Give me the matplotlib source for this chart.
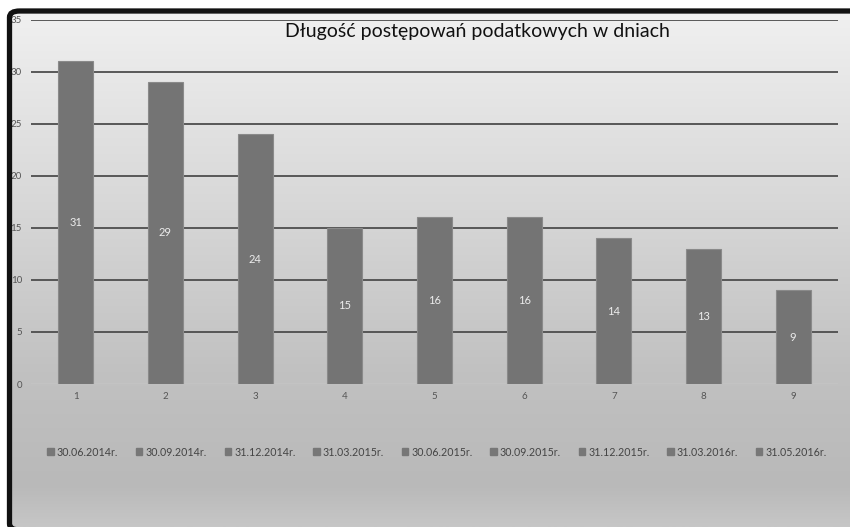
import numpy as np
import matplotlib
matplotlib.use('Agg')
import matplotlib.pyplot as plt
from matplotlib.patches import FancyBboxPatch
from matplotlib.colors import LinearSegmentedColormap

# chart data
categories = [1, 2, 3, 4, 5, 6, 7, 8, 9]
values = [31, 29, 24, 15, 16, 16, 14, 13, 9]
dates = ['30.06.2014r.', '30.09.2014r.', '31.12.2014r.', '31.03.2015r.',
         '30.06.2015r.', '30.09.2015r.', '31.12.2015r.', '31.03.2016r.',
         '31.05.2016r.']
yticks = [0, 5, 10, 15, 20, 25, 30, 35]
title = 'Długość postępowań podatkowych w dniach'

W, H = 850, 527
plt.rcParams['font.family'] = ['Lato', 'DejaVu Sans']

fig = plt.figure(figsize=(W / 100, H / 100), dpi=100, facecolor='white')

# gray gradient background of the chart area
bg = fig.add_axes([10 / W, 0, 1 - 10 / W, 1 - 11 / H], zorder=0)
grad = LinearSegmentedColormap.from_list(
    'bg', [(0, '#c6c6c6'), (0.08, '#b9b9b9'), (0.3, '#c1c1c1'),
           (0.6, '#d6d6d6'), (1, '#f0f0f0')])
bg.imshow(np.linspace(0, 1, 256)[:, None], aspect='auto', cmap=grad,
          origin='lower', extent=[0, 1, 0, 1])
bg.set_axis_off()

# black rounded frame (left, top, bottom-left corner)
frame = FancyBboxPatch((9.5 / W, -3 / H), 1.2, 1 - 8 / H,
                       boxstyle='round,pad=0,rounding_size=0.012',
                       transform=fig.transFigure, fill=False,
                       edgecolor='#111111', linewidth=3.8, zorder=5)
fig.patches.append(frame)

ax = fig.add_axes([31 / W, (H - 384) / H, (838 - 31) / W, (384 - 19.5) / H],
                  zorder=2)
ax.patch.set_alpha(0)

bars = ax.bar(categories, values, width=0.39, color='#747474',
              edgecolor='#8a8a8a', linewidth=0.8, zorder=3)

for x, v in zip(categories, values):
    ax.text(x, v / 2, str(v), ha='center', va='center', color='#ececec',
            fontsize=8, zorder=4)

ax.set_xlim(0.5, 9.5)
ax.set_ylim(0, 35)
ax.set_yticks(yticks)
ax.set_xticks(categories)
ax.tick_params(axis='both', length=0, labelsize=7, labelcolor='#555555')
ax.tick_params(axis='y', pad=6.5)
ax.tick_params(axis='x', pad=6)
for s in ax.spines.values():
    s.set_visible(False)
for y in yticks[1:]:
    ax.axhline(y, color='#4d4d4d', linewidth=1.3, zorder=1)
ax.axhline(0, color='#d2d2d2', linewidth=1.0, zorder=1)

fig.text(477 / W, 1 - 32 / H, title, ha='center', va='center',
         fontsize=14, color='#111111', zorder=6)

# legend: one square per date
handles = [plt.Rectangle((0, 0), 1, 1, color='#777777') for _ in dates]
fig.legend(handles, dates, loc='center', bbox_to_anchor=(437 / W, 1 - 452 / H),
           ncol=9, frameon=False, fontsize=7.7, labelcolor='#444444',
           handlelength=0.6, handleheight=0.6, handletextpad=0.3,
           columnspacing=1.65)

fig.savefig('out.png', dpi=100, facecolor='white')
